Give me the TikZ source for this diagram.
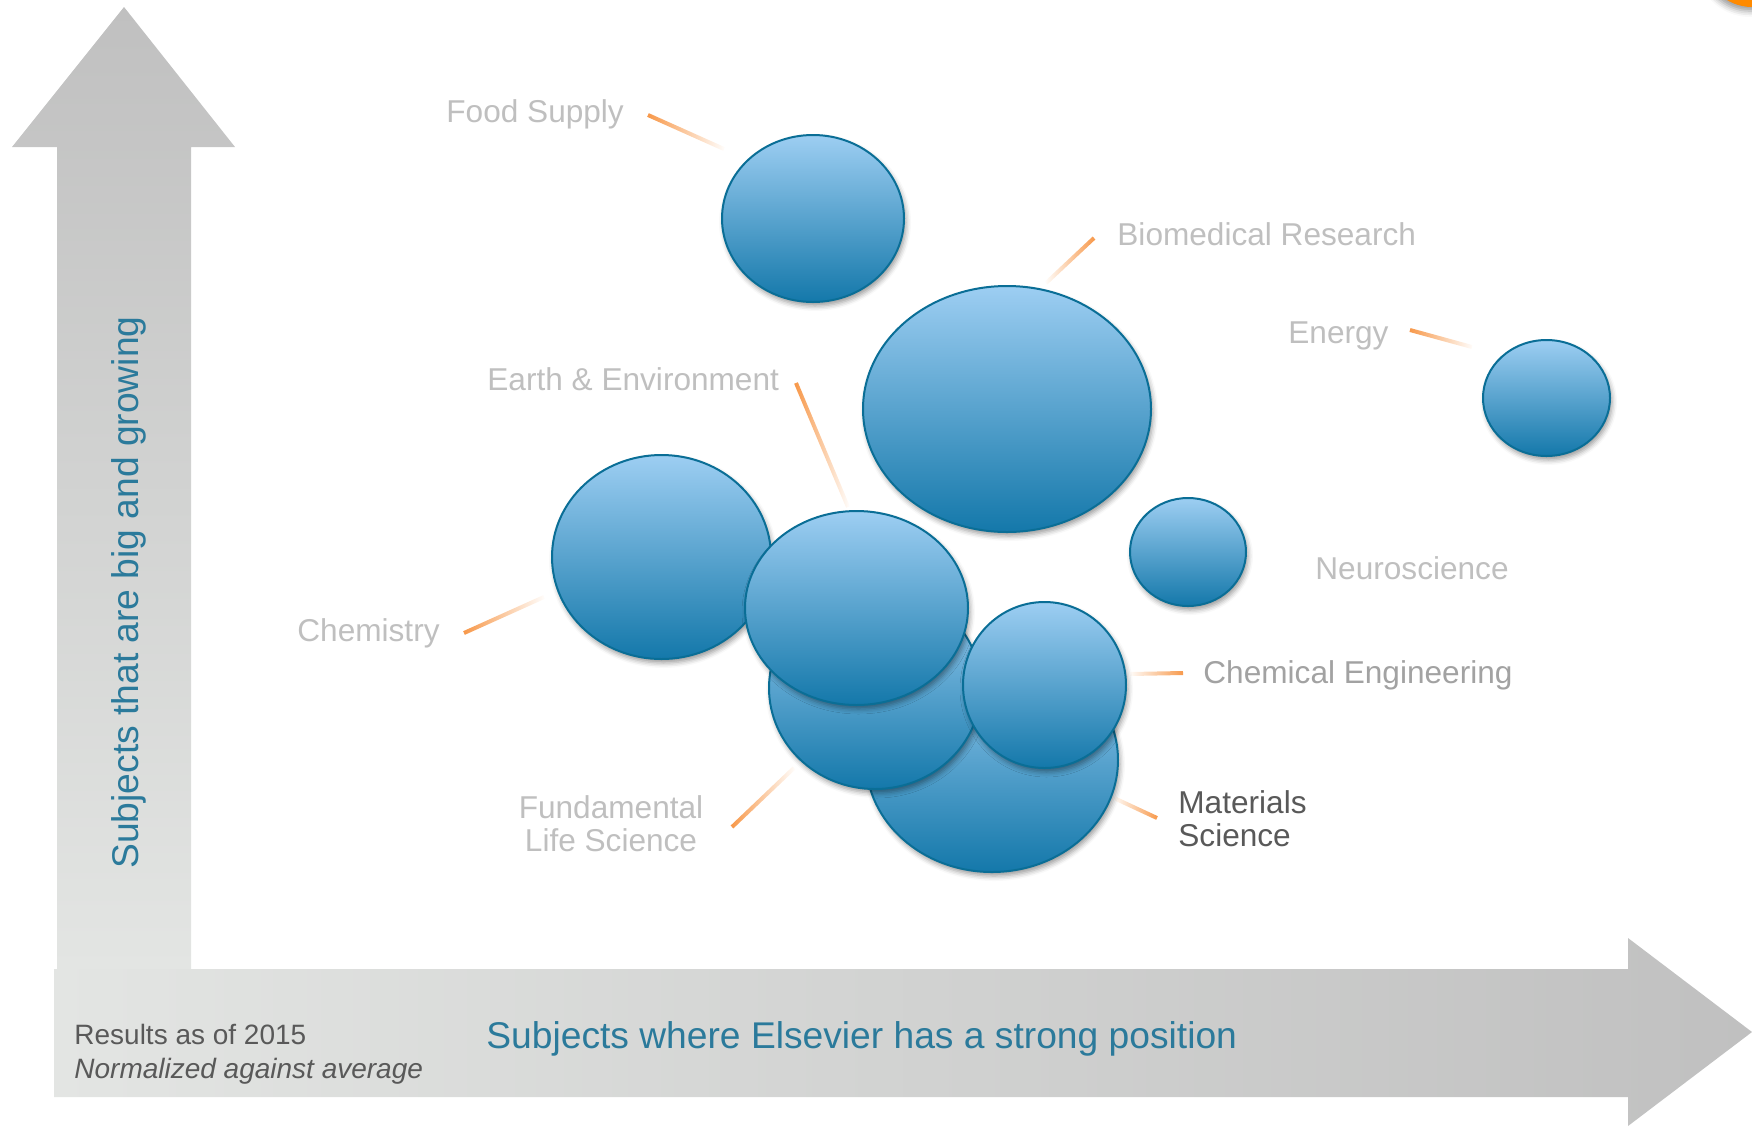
\documentclass[tikz,border=0pt]{standalone}
\usepackage{fontspec}
\setmainfont{Liberation Sans}
\usetikzlibrary{shapes.geometric,shadows.blur,fadings}

\definecolor{bubbletop}{HTML}{9DCEF2}
\definecolor{bubblebot}{HTML}{1478AA}
\definecolor{bubbleedge}{HTML}{0A6E96}
\definecolor{axisgray}{HTML}{C0C0C0}
\definecolor{axislight}{HTML}{E3E5E3}
\definecolor{axisteal}{HTML}{2B7A9B}
\definecolor{labelgray}{HTML}{BFBFBF}
\definecolor{notegray}{HTML}{595959}
\definecolor{linkorange}{HTML}{F79646}
\definecolor{cornerorange}{HTML}{FF8A00}

\tikzset{
  bubble/.style={ellipse, draw=bubbleedge, line width=1pt, top color=bubbletop,
    bottom color=bubblebot, inner sep=0pt,
    blur shadow={shadow xshift=1pt, shadow yshift=-2pt, shadow blur radius=2.5pt, shadow opacity=40}},
  tag/.style={text=labelgray, font=\fontsize{15.8}{16.5}\selectfont, inner sep=0pt},
  axistext/.style={text=axisteal, font=\fontsize{18.6}{22}\selectfont, inner sep=0pt},
  link/.style={draw=linkorange, line width=2pt},
}

\begin{document}
\begin{tikzpicture}[x=0.5pt, y=-0.5pt]
  \useasboundingbox (0,0) rectangle (1752,1126);

  % orange disc in the corner
  \fill[cornerorange, blur shadow={shadow xshift=-1pt, shadow yshift=-2pt, shadow blur radius=3pt}]
    (1752,-41) circle [radius=24pt];

  % the two axes
  \shade[top color=axisgray, bottom color=axislight]
    (124,7) -- (235,147) -- (191,147) -- (191,969) -- (57,969) -- (57,147) -- (12,147) -- cycle;
  \shade[left color=axislight, right color=axisgray]
    (54,969) -- (1628,969) -- (1628,938) -- (1752,1032) -- (1628,1126) -- (1628,1097) -- (54,1097) -- cycle;

  \node[axistext, anchor=base west, rotate=90] (ylab) at (138,869) {Subjects that are big and growing};
  \node[axistext, anchor=base west] (xlab) at (486,1048) {Subjects where Elsevier has a strong position};
  \node[text=notegray, font=\fontsize{14}{17}\selectfont, inner sep=0pt, align=left, anchor=base west]
    (note) at (74,1078) {Results as of 2015\\\textit{Normalized against average}};

  % bubbles
  \node[bubble, minimum width=91pt, minimum height=83.5pt] (food) at (813,218.5) {};
  \node[bubble, minimum width=144pt, minimum height=123pt] (biomed) at (1007,409) {};
  \node[bubble, minimum width=63.5pt, minimum height=58pt] (energy) at (1546.5,398) {};
  \node[bubble, minimum width=58pt, minimum height=54pt] (neuro) at (1188,552) {};
  \node[bubble, minimum width=109.5pt, minimum height=102pt] (chem) at (661.5,557) {};
  \node[bubble, minimum width=126pt, minimum height=112pt] (mat) at (992,760) {};
  \node[bubble, minimum width=106pt, minimum height=101pt] (fund) at (875,688) {};
  \node[bubble, minimum width=111.5pt, minimum height=97pt] (earth) at (856.5,608) {};
  \node[bubble, minimum width=81.5pt, minimum height=83pt] (chemeng) at (1044.5,685) {};

  % labels
  \node[tag, anchor=base west] (food-l) at (446,122) {Food Supply};
  \node[tag, anchor=base west] (biomed-l) at (1117,245) {Biomedical Research};
  \node[tag, anchor=base west] (energy-l) at (1288,343) {Energy};
  \node[tag, anchor=base west] (earth-l) at (487,390) {Earth \& Environment};
  \node[tag, anchor=base west] (neuro-l) at (1315,579) {Neuroscience};
  \node[tag, anchor=base west] (chem-l) at (297,641) {Chemistry};
  \node[tag, anchor=base west, text=labelgray!85!black] (chemeng-l) at (1203,683) {Chemical Engineering};
  \node[tag, anchor=base, align=center] (fund-l) at (611,851) {Fundamental\\Life Science};
  \node[tag, anchor=base west, align=left, text=notegray] (mat-l) at (1178,846) {Materials\\Science};

  % connectors, fading towards the bubbles
  \coordinate (food-a) at (648,115);    \coordinate (food-b) at (724,149);
  \coordinate (biomed-a) at (1094,238); \coordinate (biomed-b) at (1046,283);
  \coordinate (energy-a) at (1410,330); \coordinate (energy-b) at (1472,347);
  \coordinate (earth-a) at (796,383);   \coordinate (earth-b) at (848,507);
  \coordinate (chem-a) at (464,633);    \coordinate (chem-b) at (544,597);
  \coordinate (chemeng-a) at (1183,673); \coordinate (chemeng-b) at (1130,674);
  \coordinate (fund-a) at (732,827);    \coordinate (fund-b) at (794,768);
  \coordinate (mat-a) at (1157,818);    \coordinate (mat-b) at (1114,798);
  \draw[link, path fading=east] (food-a) -- (food-b);
  \draw[link, path fading=west] (biomed-a) -- (biomed-b);
  \draw[link, path fading=east] (energy-a) -- (energy-b);
  \draw[link, path fading=east] (earth-a) -- (earth-b);
  \draw[link, path fading=east] (chem-a) -- (chem-b);
  \draw[link, path fading=west] (chemeng-a) -- (chemeng-b);
  \draw[link, path fading=east] (fund-a) -- (fund-b);
  \draw[link, path fading=west] (mat-a) -- (mat-b);
\end{tikzpicture}
\end{document}
